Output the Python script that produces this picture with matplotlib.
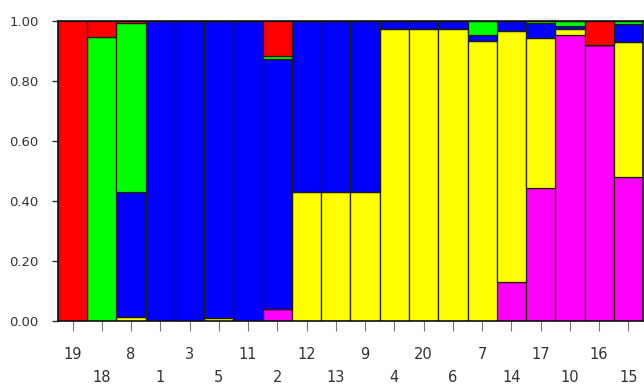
import matplotlib
matplotlib.use("Agg")
import matplotlib.pyplot as plt
import numpy as np

labels = ['19', '18', '8', '1', '3', '5', '11', '2', '12', '13',
          '9', '4', '20', '6', '7', '14', '17', '10', '16', '15']

magenta = [0, 0, 0, 0, 0, 0, 0, 0.04, 0, 0,
           0, 0, 0, 0, 0, 0.13, 0.445, 0.953, 0.92, 0.48]
yellow = [0, 0, 0.012, 0, 0, 0.01, 0, 0, 0.43, 0.43,
          0.43, 0.972, 0.972, 0.972, 0.935, 0.837, 0.50, 0.022, 0, 0.45]
blue = [0, 0, 0.418, 1.0, 1.0, 0.99, 1.0, 0.835, 0.57, 0.57,
        0.57, 0.028, 0.028, 0.028, 0.02, 0.033, 0.05, 0.01, 0, 0.06]
green = [0, 0.947, 0.565, 0, 0, 0, 0, 0.01, 0, 0,
         0, 0, 0, 0, 0.045, 0, 0.005, 0.015, 0, 0.01]
red = [1.0, 0.053, 0.005, 0, 0, 0, 0, 0.115, 0, 0,
       0, 0, 0, 0, 0, 0, 0, 0, 0.08, 0]

yticks = [0.0, 0.2, 0.4, 0.6, 0.8, 1.0]
ytick_labels = ['0.00', '0.20', '0.40', '0.60', '0.80', '1.00']

series = [magenta, yellow, blue, green, red]
colors = ['#FF00FF', '#FFFF00', '#0000FF', '#00FF00', '#FF0000']

plt.rcParams['font.family'] = ['Liberation Sans Narrow', 'DejaVu Sans']

fig = plt.figure(figsize=(6.44, 3.87), dpi=100)
ax = fig.add_axes([0.090, 0.1705, 0.9085, 0.7752])

x = np.arange(len(labels))
bottom = np.zeros(len(labels))
for vals, c in zip(series, colors):
    v = np.array(vals, dtype=float)
    ax.bar(x, v, bottom=bottom, width=1.0, color=c, edgecolor='#202000',
           linewidth=0.9, align='center')
    bottom += v

ax.set_xlim(-0.5, len(labels) - 0.5)
ax.set_ylim(0, 1.0)
ax.set_yticks(yticks)
ax.set_yticklabels(ytick_labels, fontsize=9.5, color='#333333')
ax.tick_params(axis='y', length=4, width=1, pad=10, color='#333333')

upper = x[0::2]
lower = x[1::2]
ax.set_xticks(upper)
ax.set_xticklabels([labels[i] for i in upper], fontsize=10.5, color='#333333')
ax.set_xticks(lower, minor=True)
ax.set_xticklabels([labels[i] for i in lower], minor=True, fontsize=10.5, color='#333333')
ax.tick_params(axis='x', which='major', length=7, width=0.8, pad=12, color='#777777')
ax.tick_params(axis='x', which='minor', length=7, width=0.8, pad=28, color='#777777')

for s in ax.spines.values():
    s.set_color('#101010')
    s.set_linewidth(1.2)

fig.savefig('out.png', dpi=100)
